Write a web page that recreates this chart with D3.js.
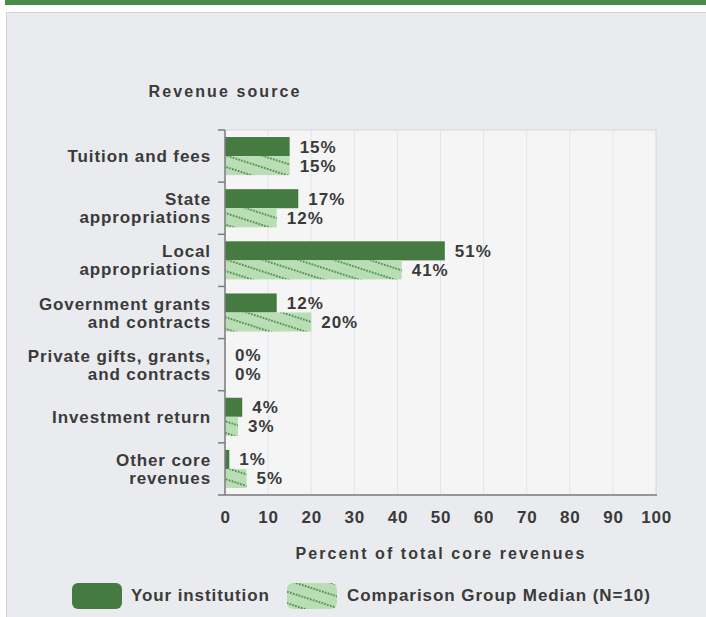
<!DOCTYPE html>
<html><head><meta charset="utf-8">
<script src="https://cdn.jsdelivr.net/npm/d3@7"></script>
<style>
html,body{margin:0;padding:0;background:#fff;}
svg{display:block;font-family:"Liberation Sans",Arial,sans-serif;}
</style></head>
<body>
<svg id="c" width="706" height="617"></svg>
<script>
const categories = [
  ["Tuition and fees"],
  ["State","appropriations"],
  ["Local","appropriations"],
  ["Government grants","and contracts"],
  ["Private gifts, grants,","and contracts"],
  ["Investment return"],
  ["Other core","revenues"]
];
const yourInstitution = [15, 17, 51, 12, 0, 4, 1];
const comparisonMedian = [15, 12, 41, 20, 0, 3, 5];
const xTicks = [0,10,20,30,40,50,60,70,80,90,100];
const seriesNames = ["Your institution", "Comparison Group Median (N=10)"];

const svg = d3.select("#c");
const dark = "#457a41", light = "#b9deb5", hatch = "#468243";
const txt = "#3a3a3a";

svg.append("rect").attr("x",5).attr("y",0).attr("width",701).attr("height",5).attr("fill","#4a8a4b");
svg.append("rect").attr("x",6.5).attr("y",12.5).attr("width",705).attr("height",620)
  .attr("fill","#eaebef").attr("stroke","#d3d3d6");

const defs = svg.append("defs");
const pat = defs.append("pattern").attr("id","hatch").attr("patternUnits","userSpaceOnUse")
  .attr("width",12).attr("height",11).attr("patternTransform","rotate(18)");
pat.append("rect").attr("width",12).attr("height",11).attr("fill",light);
pat.append("line").attr("x1",0).attr("y1",1).attr("x2",12).attr("y2",1)
  .attr("stroke",hatch).attr("stroke-width",1.8).attr("stroke-dasharray","1.5,1.5");

const m = {l:225, r:656, t:130, b:495};
const x = d3.scaleLinear().domain([0,100]).range([m.l, m.r]);
const y = d3.scaleBand().domain(d3.range(categories.length)).range([m.t, m.b]).paddingInner(0.27).paddingOuter(0.135);
const yOuter = d3.scaleBand().domain(d3.range(categories.length)).range([m.t, m.b]);

svg.append("rect").attr("x",m.l).attr("y",m.t).attr("width",m.r-m.l).attr("height",m.b-m.t)
  .attr("fill","#f5f5f5").attr("stroke","#d8d8dc");

svg.append("g").selectAll("line").data(xTicks.slice(1,-1)).join("line")
  .attr("x1",d=>x(d)).attr("x2",d=>x(d)).attr("y1",m.t).attr("y2",m.b)
  .attr("stroke","#dfe5f0").attr("stroke-width",1);

const lab = (sel, size, ls) => sel.attr("font-size",size).attr("font-weight","bold").attr("fill",txt).attr("letter-spacing",ls);

const bh = y.bandwidth()/2;
const g = svg.append("g");
categories.forEach((c,i)=>{
  const y0 = y(i);
  if (yourInstitution[i] > 0)
    g.append("rect").attr("x",x(0)).attr("y",y0).attr("width",x(yourInstitution[i])-x(0)).attr("height",bh).attr("fill",dark);
  if (comparisonMedian[i] > 0)
    g.append("rect").attr("x",x(0)).attr("y",y0+bh).attr("width",x(comparisonMedian[i])-x(0)).attr("height",bh).attr("fill","url(#hatch)");
  lab(g.append("text").attr("x",x(yourInstitution[i])+10).attr("y",y0+bh/2+6),17,1).text(yourInstitution[i]+"%");
  lab(g.append("text").attr("x",x(comparisonMedian[i])+10).attr("y",y0+bh*1.5+6),17,1).text(comparisonMedian[i]+"%");
  const cy = yOuter(i) + yOuter.bandwidth()/2;
  const t = lab(svg.append("text").attr("text-anchor","end"),17,0.9);
  const n = c.length;
  c.forEach((line,k)=>{
    t.append("tspan").attr("x",211).attr("y", cy + 6 + (k-(n-1)/2)*18).text(line);
  });
});

svg.append("line").attr("x1",m.l).attr("x2",m.l).attr("y1",m.t).attr("y2",m.b).attr("stroke","#7d7d80").attr("stroke-width",1.5);
svg.append("g").selectAll("line").data(d3.range(categories.length)).join("line")
  .attr("x1",m.l-7).attr("x2",m.l).attr("y1",d=>yOuter(d)).attr("y2",d=>yOuter(d))
  .attr("stroke","#7d7d80").attr("stroke-width",1.5);

const xa = svg.append("g").attr("transform",`translate(0,${m.b})`)
  .call(d3.axisBottom(x).tickValues(xTicks).tickSize(0).tickPadding(16));
xa.select(".domain").remove();
xa.selectAll("text").attr("font-size",17).attr("font-weight","bold").attr("fill",txt)
  .attr("font-family","Liberation Sans, Arial, sans-serif").attr("letter-spacing",0.8);
svg.append("line").attr("x1",m.l-7).attr("x2",m.r+1).attr("y1",m.b).attr("y2",m.b).attr("stroke","#7d7d80").attr("stroke-width",1.5);

lab(svg.append("text").attr("x",225).attr("y",97).attr("text-anchor","middle"),16,2.1).text("Revenue source");
lab(svg.append("text").attr("x",441).attr("y",559).attr("text-anchor","middle"),16,2.05).text("Percent of total core revenues");

svg.append("rect").attr("x",72).attr("y",583).attr("width",50).attr("height",26).attr("rx",6).attr("fill",dark);
lab(svg.append("text").attr("x",131).attr("y",601),17,0.9).text(seriesNames[0]);
svg.append("rect").attr("x",287).attr("y",583).attr("width",50).attr("height",26).attr("rx",6).attr("fill","url(#hatch)");
lab(svg.append("text").attr("x",347).attr("y",601),17,0.95).text(seriesNames[1]);
</script>
</body></html>
